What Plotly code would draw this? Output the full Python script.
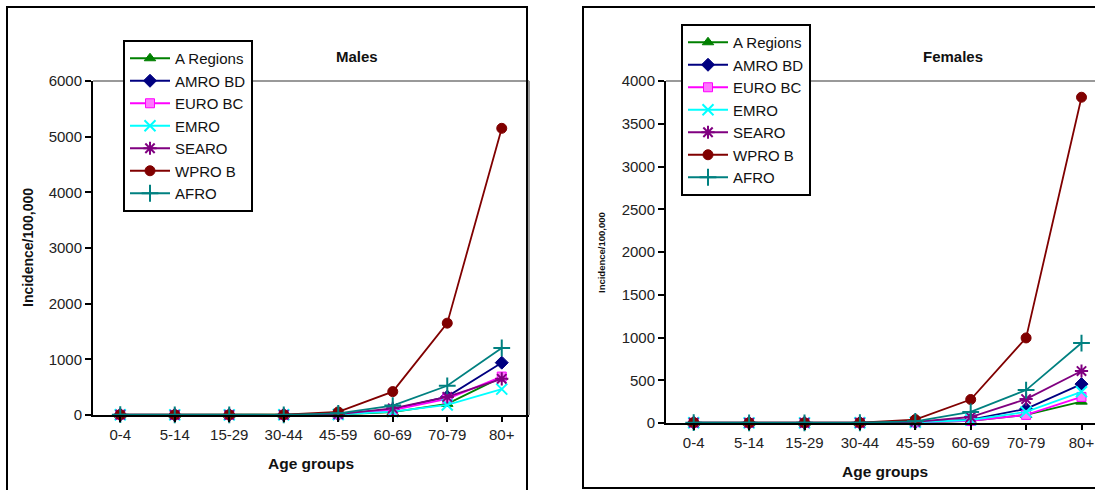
import plotly.graph_objects as go

W, H = 1095, 490

ages = ["0-4", "5-14", "15-29", "30-44", "45-59", "60-69", "70-79", "80+"]
series_names = ["A Regions", "AMRO BD", "EURO BC", "EMRO", "SEARO", "WPRO B", "AFRO"]

males_a_regions = [2, 1, 1, 2, 10, 50, 200, 680]
males_amro_bd = [3, 1, 1, 3, 15, 100, 330, 940]
males_euro_bc = [3, 1, 1, 2, 12, 90, 290, 690]
males_emro = [4, 2, 2, 3, 10, 60, 180, 465]
males_searo = [5, 2, 2, 3, 15, 120, 325, 650]
males_wpro_b = [6, 3, 3, 5, 55, 420, 1650, 5150]
males_afro = [5, 2, 2, 4, 30, 170, 525, 1205]

females_a_regions = [1, 1, 1, 1, 5, 25, 95, 250]
females_amro_bd = [2, 1, 1, 2, 10, 40, 165, 455]
females_euro_bc = [2, 1, 1, 2, 8, 25, 95, 305]
females_emro = [3, 1, 1, 2, 8, 35, 130, 365]
females_searo = [4, 2, 2, 3, 12, 70, 280, 608]
females_wpro_b = [5, 2, 2, 4, 40, 275, 995, 3810]
females_afro = [4, 2, 2, 3, 20, 130, 385, 935]

males_values = [males_a_regions, males_amro_bd, males_euro_bc, males_emro,
                males_searo, males_wpro_b, males_afro]
females_values = [females_a_regions, females_amro_bd, females_euro_bc, females_emro,
                  females_searo, females_wpro_b, females_afro]

colors = ["#008000", "#000080", "#FF00FF", "#00FFFF", "#800080", "#800000", "#008080"]
symbols = ["triangle-up", "diamond", "square", "x-thin-open", "asterisk-open", "circle", "cross-thin-open"]
fills = ["#008000", "#000080", "#FF77FF", "#00FFFF", "#800080", "#800000", "#008080"]
sizes = [10, 10, 9, 11, 11, 10, 12]

FONT = "Liberation Sans, Arial, sans-serif"

fig = go.Figure()

for panel, (vals, xa, ya, lg) in enumerate([(males_values, "x", "y", "legend"),
                                            (females_values, "x2", "y2", "legend2")]):
    for i, name in enumerate(series_names):
        fig.add_trace(go.Scatter(
            x=list(range(len(ages))), y=vals[i], name=name, mode="lines+markers",
            xaxis=xa, yaxis=ya, legend=lg, legendgroup=f"{lg}_{i}",
            line=dict(color=colors[i], width=1.8),
            marker=dict(symbol=symbols[i], size=sizes[i], color=fills[i],
                        line=dict(color=colors[i], width=2 if "open" in symbols[i] else 1)),
            cliponaxis=False,
        ))

def px_x(v):
    return v / W

def px_y(v):
    return 1 - v / H

common_x = dict(
    tickmode="array", tickvals=list(range(len(ages))), ticktext=ages,
    showline=True, linecolor="black", linewidth=2,
    ticks="outside", ticklen=5, tickwidth=1.5, tickcolor="black",
    showgrid=False, zeroline=False, automargin=False,
    tickfont=dict(family=FONT, size=15, color="#222"),
)
common_y = dict(
    showline=True, linecolor="black", linewidth=2,
    ticks="outside", ticklen=6, tickwidth=1.5, tickcolor="black",
    showgrid=False, zeroline=False, automargin=False, ticklabelstandoff=0,
    tickfont=dict(family=FONT, size=15, color="#222"),
)

# Left (Males) panel
lx0, lx1 = px_x(93), px_x(529)
ly0, ly1 = px_y(415), px_y(81)
# Right (Females) panel; category width ~55.4 px, last column clipped at image edge
rx0, rx1 = px_x(666), 1.0
ry0, ry1 = px_y(423), px_y(81)
r_end = -0.5 + (W - 666) / 55.4

fig.update_layout(
    width=W, height=H,
    margin=dict(l=0, r=0, t=0, b=0, autoexpand=False),
    paper_bgcolor="white", plot_bgcolor="white",
    showlegend=True,
    xaxis=dict(domain=[lx0, lx1], range=[-0.5, 7.5], anchor="y", **common_x),
    yaxis=dict(domain=[ly0, ly1], range=[0, 6000], tickvals=[0, 1000, 2000, 3000, 4000, 5000, 6000],
               anchor="x", **common_y),
    xaxis2=dict(domain=[rx0, rx1], range=[-0.5, r_end], anchor="y2", **common_x),
    yaxis2=dict(domain=[ry0, ry1], range=[0, 4000],
                tickvals=[0, 500, 1000, 1500, 2000, 2500, 3000, 3500, 4000], anchor="x2", **common_y),
    legend=dict(x=px_x(123), y=px_y(40), xanchor="left", yanchor="top",
                bgcolor="white", bordercolor="black", borderwidth=2,
                font=dict(family=FONT, size=15, color="#111"), tracegroupgap=0,
                itemwidth=40),
    legend2=dict(x=px_x(681), y=px_y(24), xanchor="left", yanchor="top",
                 bgcolor="white", bordercolor="black", borderwidth=2,
                 font=dict(family=FONT, size=15, color="#111"), tracegroupgap=0,
                 itemwidth=40),
)

shapes = []
# grey plot-area borders (top and right)
shapes.append(dict(type="line", xref="paper", yref="paper", x0=lx0, x1=lx1, y0=ly1, y1=ly1,
                   line=dict(color="#999999", width=2), layer="below"))
shapes.append(dict(type="line", xref="paper", yref="paper", x0=lx1, x1=lx1, y0=ly0, y1=ly1,
                   line=dict(color="#999999", width=2), layer="below"))
shapes.append(dict(type="line", xref="paper", yref="paper", x0=rx0, x1=1.0, y0=ry1, y1=ry1,
                   line=dict(color="#999999", width=2), layer="below"))
# outer chart frames
shapes.append(dict(type="rect", xref="paper", yref="paper", x0=px_x(7), x1=px_x(527),
                   y0=-0.05, y1=px_y(7), line=dict(color="black", width=2), layer="below"))
shapes.append(dict(type="rect", xref="paper", yref="paper", x0=px_x(583), x1=1.05,
                   y0=px_y(488), y1=px_y(7), line=dict(color="black", width=2), layer="below"))
fig.update_layout(shapes=shapes)

def label(text, x, y, size, angle=0):
    return dict(text=text, x=px_x(x), y=px_y(y), xref="paper", yref="paper",
                xanchor="center", yanchor="middle", showarrow=False, textangle=angle,
                font=dict(family=FONT, size=size, color="#111"))

ann = [
    label("<b>Males</b>", 357, 57, 15),
    label("<b>Females</b>", 953, 56, 15),
    label("<b>Age groups</b>", 311, 463, 15.5),
    label("<b>Age groups</b>", 885, 471, 15.5),
    label("<b>Incidence/100,000</b>", 28, 248, 14, -90),
    label("<b>Incidence/100,000</b>", 601, 253, 9.5, -90),
]
fig.update_layout(annotations=ann)

fig.write_html(
    "out.html",
    config={"displayModeBar": False},
    post_script="document.body.style.margin='0';document.body.style.overflow='hidden';",
)
